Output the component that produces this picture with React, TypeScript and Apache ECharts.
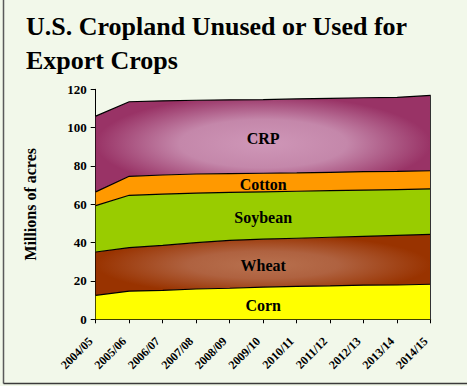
import React, { useEffect, useRef } from "react";
import * as echarts from "echarts";

// Crop years on the x axis
const seasons = [
  "2004/05", "2005/06", "2006/07", "2007/08", "2008/09", "2009/10",
  "2010/11", "2011/12", "2012/13", "2013/14", "2014/15",
];

// Millions of acres, stacked from the bottom up
const corn = [12.5, 14.7, 15.1, 15.8, 16.2, 16.8, 17.2, 17.4, 17.8, 17.9, 18.3];
const wheat = [22.6, 22.7, 23.5, 24.2, 25.0, 25.0, 25.1, 25.4, 25.5, 25.9, 26.0];
const soybean = [24.2, 27.3, 26.7, 25.8, 25.0, 24.7, 24.5, 24.3, 24.1, 23.9, 23.7];
const cotton = [7.2, 9.9, 10.0, 10.0, 9.8, 9.7, 9.6, 9.6, 9.6, 9.5, 9.5];
const crp = [39.5, 38.9, 38.7, 38.5, 38.5, 38.4, 38.6, 38.6, 38.6, 38.6, 39.3];

const layerNames = ["Corn", "Wheat", "Soybean", "Cotton", "CRP"];

// y axis range
const yMin = 0;
const yMax = 120;
const yStep = 20;

const SERIF = "'Liberation Serif', 'Times New Roman', serif";
const BG = "#f2f8ea";

const radial = (stops: [number, string][]) => ({
  type: "radial",
  x: 0.5,
  y: 0.5,
  r: 0.5,
  colorStops: stops.map(([offset, color]) => ({ offset, color })),
});

const fills: any[] = [
  "#ffff00",
  radial([
    [0, "#b8714f"],
    [0.45, "#af6240"],
    [1, "#993300"],
  ]),
  "#99cc00",
  "#ff9900",
  radial([
    [0, "#cf97b8"],
    [0.5, "#c487aa"],
    [1, "#993366"],
  ]),
];

export default function App() {
  const ref = useRef<HTMLDivElement>(null);

  useEffect(() => {
    if (!ref.current) return;
    const chart = echarts.init(ref.current, undefined, { renderer: "svg" });
    const layers = [corn, wheat, soybean, cotton, crp];
    const last = seasons.length - 1;
    const lastTotal = layers.reduce((s, arr) => s + arr[last], 0);

    const series = layers.map((values, i) => {
      const s: any = {
        name: layerNames[i],
        type: "line",
        stack: "acres",
        data: values,
        symbol: "none",
        smooth: false,
        lineStyle: { color: "#000", width: 1.2 },
        areaStyle: { color: fills[i], opacity: 1 },
        emphasis: { disabled: true },
        silent: true,
        z: 2,
      };
      if (i === layers.length - 1) {
        s.markLine = {
          silent: true,
          symbol: "none",
          label: { show: false },
          lineStyle: { color: "#333", width: 1, type: "solid" },
          data: [
            [
              { coord: [seasons[last], 0] },
              { coord: [seasons[last], lastTotal] },
            ],
          ],
        };
      }
      return s;
    });

    chart.setOption({
      animation: false,
      backgroundColor: BG,
      title: {
        text: "U.S. Cropland Unused or Used for\nExport Crops",
        left: 21,
        top: 4,
        textStyle: {
          fontFamily: SERIF,
          fontWeight: "bold",
          fontSize: 26,
          lineHeight: 34,
          color: "#000",
        },
      },
      grid: { left: 95.7, right: 36.3, top: 89.3, bottom: 66.7, containLabel: false },
      xAxis: {
        type: "category",
        data: seasons,
        boundaryGap: false,
        axisLine: { lineStyle: { color: "#000", width: 1 } },
        axisTick: { show: true, length: 4, lineStyle: { color: "#000" } },
        axisLabel: {
          rotate: 45,
          margin: 15,
          padding: [0, 7, 0, 0],
          fontFamily: SERIF,
          fontWeight: "bold",
          fontSize: 12,
          color: "#000",
          interval: 0,
        },
        splitLine: { show: false },
      },
      yAxis: {
        type: "value",
        min: yMin,
        max: yMax,
        interval: yStep,
        name: "Millions of acres",
        nameLocation: "middle",
        nameGap: 57,
        nameTextStyle: {
          fontFamily: SERIF,
          fontWeight: "bold",
          fontSize: 16,
          color: "#000",
        },
        axisLine: { show: true, lineStyle: { color: "#000", width: 1 } },
        axisTick: { show: true, length: 5, lineStyle: { color: "#000" } },
        axisLabel: {
          margin: 9,
          fontFamily: SERIF,
          fontWeight: "bold",
          fontSize: 13,
          color: "#000",
        },
        splitLine: { show: false },
      },
      series,
    });

    // Layer names, centred in each band at the middle season
    const mid = Math.floor(seasons.length / 2);
    let base = 0;
    const labels = layers.map((values, i) => {
      const v = values[mid];
      const centre = base + v / 2;
      base += v;
      const [x, y] = chart.convertToPixel({ gridIndex: 0 }, [seasons[mid], centre]) as number[];
      return {
        type: "text",
        x,
        y: y + 2,
        z: 10,
        silent: true,
        style: {
          text: layerNames[i],
          font: `bold 16px ${SERIF}`,
          fill: "#000",
          textAlign: "center",
          textVerticalAlign: "middle",
          align: "center",
          verticalAlign: "middle",
        },
      };
    });

    // Slide frame on the left and bottom
    const frame = [
      {
        type: "line",
        silent: true,
        shape: { x1: 3.5, y1: 0, x2: 3.5, y2: 383.5 },
        style: { stroke: "#5a5a5a", lineWidth: 1.5 },
      },
      {
        type: "line",
        silent: true,
        shape: { x1: 3.5, y1: 383.5, x2: 467, y2: 383.5 },
        style: { stroke: "#3a3a3a", lineWidth: 1.5 },
      },
    ];

    chart.setOption({ graphic: { elements: [...labels, ...frame] } });

    return () => chart.dispose();
  }, []);

  return (
    <div
      ref={ref}
      style={{ position: "fixed", left: 0, top: 0, width: 467, height: 386 }}
    />
  );
}
